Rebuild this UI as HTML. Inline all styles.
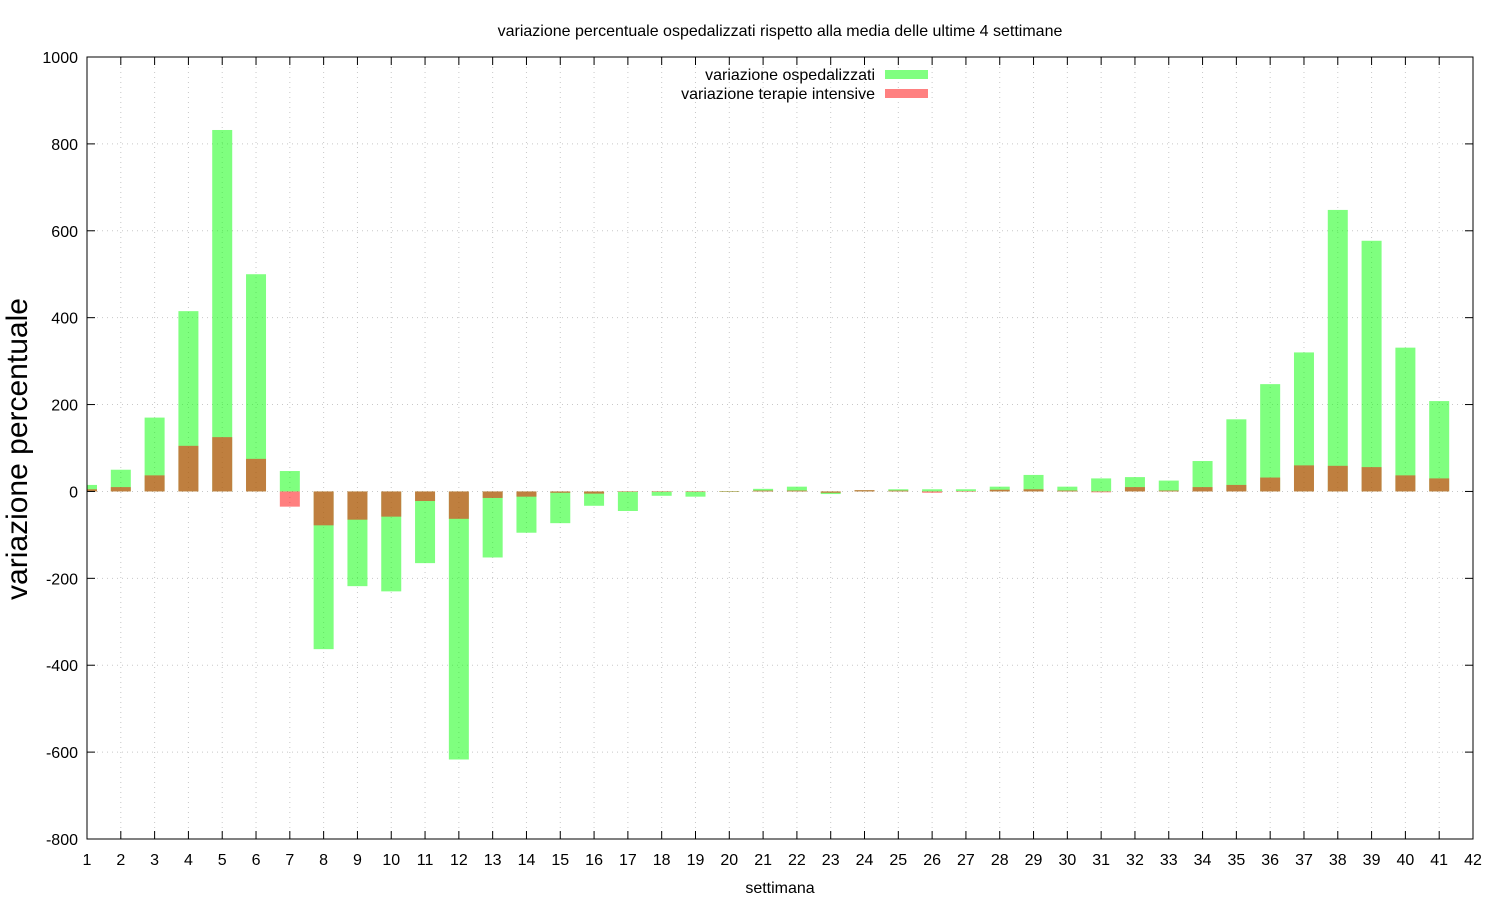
<!DOCTYPE html>
<html><head><meta charset="utf-8"><style>
body{margin:0;background:#fff;}
svg text{font-family:"Liberation Sans",sans-serif;fill:#000;}
</style></head><body>
<svg id="chart" width="1500" height="900" xmlns="http://www.w3.org/2000/svg">
<defs><clipPath id="pc"><rect x="87" y="57" width="1386" height="782"/></clipPath></defs>
<text x="780" y="36" font-size="16" text-anchor="middle">variazione percentuale ospedalizzati rispetto alla media delle ultime 4 settimane</text>
<text x="780" y="893" font-size="16" text-anchor="middle">settimana</text>
<text transform="translate(27,449) rotate(-90)" font-size="30" text-anchor="middle">variazione percentuale</text>
<g id="grid"></g><g id="bars" clip-path="url(#pc)"></g><g id="axes"></g>
<g>
<text x="875" y="80" font-size="16" text-anchor="end">variazione ospedalizzati</text>
<rect x="885" y="70" width="43" height="9" fill="#80ff80"/>
<text x="875" y="99" font-size="16" text-anchor="end">variazione terapie intensive</text>
<rect x="885" y="89" width="43" height="9" fill="#ff8080"/>
</g>
</svg>
<script>
const weeks=[1,2,3,4,5,6,7,8,9,10,11,12,13,14,15,16,17,18,19,20,21,22,23,24,25,26,27,28,29,30,31,32,33,34,35,36,37,38,39,40,41];
const ospedalizzati=[15,50,170,415,832,500,47,-363,-218,-230,-165,-617,-152,-95,-73,-33,-45,-10,-12,1,6,11,-6,3,5,5,5,11,38,11,30,33,25,70,166,247,320,648,577,331,208];
const terapie=[5,10,37,105,125,75,-35,-78,-65,-58,-22,-63,-15,-12,-3,-5,0,0,0,-1,2,2,-3,3,2,-3,1,4,5,2,-2,10,2,10,15,32,60,59,56,37,30];
const yTicks=[-800,-600,-400,-200,0,200,400,600,800,1000];
const xTicks=[1,2,3,4,5,6,7,8,9,10,11,12,13,14,15,16,17,18,19,20,21,22,23,24,25,26,27,28,29,30,31,32,33,34,35,36,37,38,39,40,41,42];
const L=87,R=1473,T=57,B=839;
const xs=v=>L+(v-1)*(R-L)/41;
const ys=v=>T+(1000-v)*(B-T)/1800;
const NS="http://www.w3.org/2000/svg";
function mk(p,tag,at){const e=document.createElementNS(NS,tag);for(const k in at)e.setAttribute(k,at[k]);p.appendChild(e);return e;}
const grid=document.getElementById('grid'),bars=document.getElementById('bars'),axes=document.getElementById('axes');
yTicks.forEach(t=>{const y=ys(t);
 const g=mk(grid,'line',{x1:L,x2:R,y1:y,y2:y,stroke:'#c8c8c8','stroke-dasharray':'1,4'});
 
 
 mk(axes,'line',{x1:L,x2:L+8,y1:y,y2:y,stroke:'#000'});mk(axes,'line',{x1:R-8,x2:R,y1:y,y2:y,stroke:'#000'});
 const tx=mk(axes,'text',{x:L-9,y:y+6,'font-size':16,'text-anchor':'end'});tx.textContent=t;
 
 
});
xTicks.forEach(t=>{const x=xs(t);
 const g=mk(grid,'line',{x1:x,x2:x,y1:T,y2:B,stroke:'#c8c8c8','stroke-dasharray':'1,4'});
 
 
 mk(axes,'line',{x1:x,x2:x,y1:B-8,y2:B,stroke:'#000'});mk(axes,'line',{x1:x,x2:x,y1:T,y2:T+8,stroke:'#000'});
 const tx=mk(axes,'text',{x:x,y:B+26,'font-size':16,'text-anchor':'middle'});tx.textContent=t;
 
 
});
const fr=mk(axes,'rect',{x:L,y:T,width:R-L,height:B-T,fill:'none',stroke:'#000'});


const bw=20;
weeks.forEach((w,i)=>{const x=xs(w)-bw/2;
 const a=ys(Math.max(0,ospedalizzati[i])),b=ys(Math.min(0,ospedalizzati[i]));
 const r=mk(bars,'rect',{x:x,y:a,width:bw,height:Math.max(0.5,b-a),fill:'#00ff00','fill-opacity':0.5});
 
 
});
weeks.forEach((w,i)=>{const x=xs(w)-bw/2;
 const a=ys(Math.max(0,terapie[i])),b=ys(Math.min(0,terapie[i]));
 const r=mk(bars,'rect',{x:x,y:a,width:bw,height:Math.max(0.5,b-a),fill:'#ff0000','fill-opacity':0.5});
 
 
});
</script>
</body></html>
